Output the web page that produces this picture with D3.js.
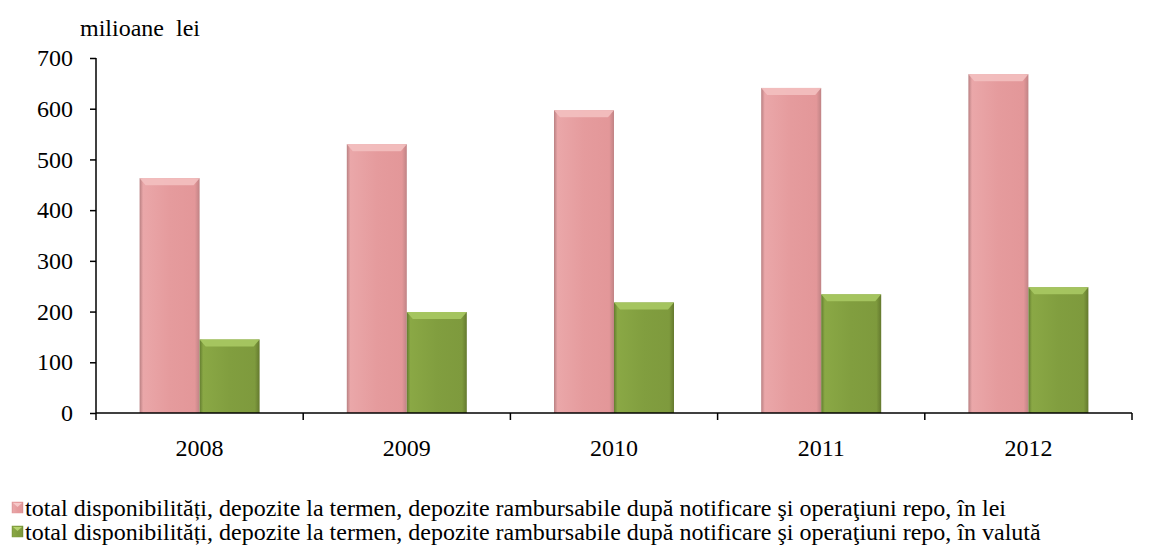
<!DOCTYPE html>
<html>
<head>
<meta charset="utf-8">
<script src="https://cdn.jsdelivr.net/npm/d3@7"></script>
<style>
  @font-face { font-family: "ChartSerif"; src: local("Liberation Serif"), local("LiberationSerif"), local("Liberation Serif Regular"); }
</style>
</head>
<body style="margin:0">
<svg width="1160" height="554"></svg>
<script>
const years = ["2008", "2009", "2010", "2011", "2012"];
const lei = [463, 530, 597, 641, 668];
const valuta = [145, 199, 218, 234, 248];
const yTicks = [0, 100, 200, 300, 400, 500, 600, 700];
const seriesNames = [
  "total disponibilități, depozite la termen, depozite rambursabile după notificare şi operaţiuni repo, în lei",
  "total disponibilități, depozite la termen, depozite rambursabile după notificare şi operaţiuni repo, în valută"
];
const colors = ["#e59b9d", "#7f9c3e"];
const FONT = '"Liberation Serif", ChartSerif, "Times New Roman", serif';

const margin = { top: 58, left: 96, right: 28, bottom: 141 };
const width = 1160 - margin.left - margin.right;
const height = 554 - margin.top - margin.bottom;

const svg = d3.select("svg");
const defs = svg.append("defs");

// horizontal shading for bevelled bars
const shades = [
  ["#b98082", "#eaa7a9", "#e59b9d", "#e39799", "#c08385"],
  ["#637c2f", "#8aa845", "#819e3f", "#7e9a3d", "#64792e"]
];
shades.forEach((s, i) => {
  const gr = defs.append("linearGradient").attr("id", "grad" + i)
    .attr("x1", 0).attr("x2", 1).attr("y1", 0).attr("y2", 0);
  [0, 0.06, 0.5, 0.92, 1].forEach((o, k) => gr.append("stop").attr("offset", o).attr("stop-color", s[k]));
});

const g = svg.append("g").attr("transform", `translate(${margin.left},${margin.top})`);

const x = d3.scaleBand().domain(years).range([0, width]);
const xs = d3.scaleBand().domain([0, 1]).range([x.bandwidth() / 2 - 60, x.bandwidth() / 2 + 60]);
const y = d3.scaleLinear().domain([0, 700]).range([height, 0]);

const data = years.map((yr, i) => ({ year: yr, vals: [lei[i], valuta[i]] }));

const groups = g.selectAll(".grp").data(data).enter().append("g")
  .attr("class", "grp")
  .attr("transform", d => `translate(${x(d.year)},0)`);

const bars = groups.selectAll(".bar").data(d => d.vals.map((v, i) => ({ v, i })))
  .enter().append("g").attr("class", "bar");

bars.append("rect")
  .attr("x", d => xs(d.i))
  .attr("y", d => y(d.v))
  .attr("width", xs.bandwidth())
  .attr("height", d => height - y(d.v))
  .attr("fill", d => `url(#grad${d.i})`);

// top bevel highlight
bars.append("path")
  .attr("d", d => {
    const x0 = xs(d.i), x1 = x0 + xs.bandwidth(), t = y(d.v);
    return `M${x0},${t}L${x1},${t}L${x1 - 6},${t + 7}L${x0 + 6},${t + 7}Z`;
  })
  .attr("fill", d => d.i === 0 ? "#f3c0c0" : "#a9c963")
  .attr("opacity", 0.9);

// axes
const yAxis = g.append("g").call(d3.axisLeft(y).tickValues(yTicks).tickSize(6).tickPadding(17));
const xAxis = g.append("g").attr("transform", `translate(0,${height})`)
  .call(d3.axisBottom(x).tickSize(0).tickPadding(26));

xAxis.selectAll(".tick").append("line")
  .attr("x1", x.bandwidth() / 2).attr("x2", x.bandwidth() / 2)
  .attr("y1", 0).attr("y2", 7).attr("stroke", "#000");
xAxis.append("line").attr("x1", 0).attr("x2", 0).attr("y1", 0).attr("y2", 7).attr("stroke", "#000");

[yAxis, xAxis].forEach(a => {
  a.attr("font-family", FONT).attr("font-size", 24);
  a.selectAll("text").attr("fill", "#000").style("font-family", FONT);
  a.select(".domain").attr("stroke", "#000").attr("stroke-width", 1.5);
  a.selectAll("line").attr("stroke-width", 1.5);
});
xAxis.select(".domain").attr("d", `M0,0H${width}`);
yAxis.select(".domain").attr("d", `M0,0V${height}`);

svg.append("text").attr("x", 80).attr("y", 36)
  .style("font-family", FONT).attr("font-size", 24)
  .style("white-space", "pre").text("milioane  lei");

// legend
const leg = svg.selectAll(".leg").data(seriesNames).enter().append("g")
  .attr("class", "leg")
  .attr("transform", (d, i) => `translate(12,${502 + i * 24})`);
leg.append("rect").attr("width", 11).attr("height", 11)
  .attr("fill", (d, i) => `url(#grad${i})`).attr("stroke", (d, i) => colors[i]).attr("stroke-width", 0.5);
leg.append("path").attr("d", "M1,1L10,1L5.5,5Z").attr("fill", (d, i) => i === 0 ? "#f6c9c9" : "#b5d36f");
leg.append("text").attr("x", 13).attr("y", 14)
  .style("font-family", FONT).attr("font-size", 24).text(d => d);
</script>
</body>
</html>
